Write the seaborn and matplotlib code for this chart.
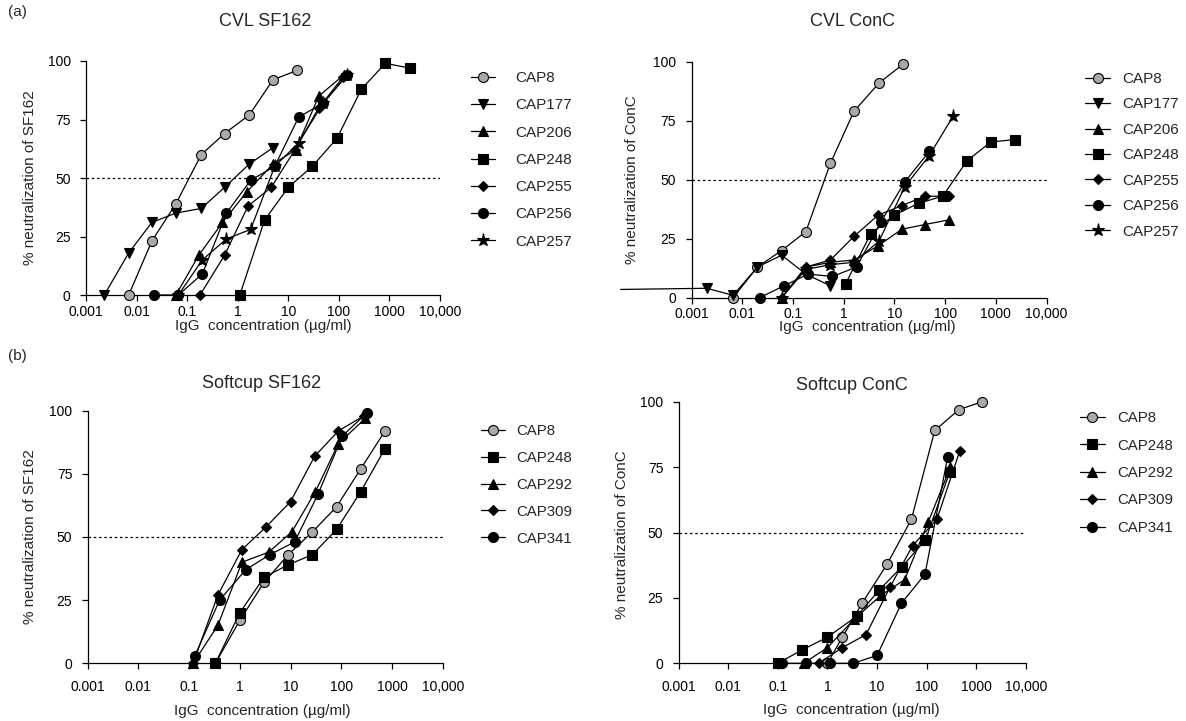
import matplotlib
matplotlib.use("Agg")
import matplotlib.pyplot as plt
import seaborn as sns

# ---------------- (a) CVL vs SF162 ----------------
a_cap8_x = [0.007, 0.02, 0.06, 0.19, 0.55, 1.7, 5, 15]
a_cap8_y = [0, 23, 39, 60, 69, 77, 92, 96]
a_cap177_x = [0.0023, 0.007, 0.02, 0.06, 0.19, 0.55, 1.7, 5]
a_cap177_y = [0, 18, 31, 35, 37, 46, 56, 63]
a_cap206_x = [0.06, 0.17, 0.5, 1.5, 5, 14, 40, 125]
a_cap206_y = [0, 17, 31, 44, 56, 62, 85, 94]
a_cap248_x = [1.1, 3.4, 10, 30, 92, 280, 830, 2500]
a_cap248_y = [0, 32, 46, 55, 67, 88, 99, 97]
a_cap255_x = [0.18, 0.55, 1.6, 4.6, 13.5, 40, 120]
a_cap255_y = [0, 17, 38, 46, 62, 80, 93]
a_cap256_x = [0.022, 0.067, 0.2, 0.6, 1.8, 5.4, 16, 49, 146]
a_cap256_y = [0, 0, 9, 35, 49, 55, 76, 82, 94]
a_cap257_x = [0.067, 0.2, 0.6, 1.8, 5.4, 16, 49, 146]
a_cap257_y = [0, 15, 24, 28, 55, 65, 82, 94]

# ---------------- (a) CVL vs ConC ----------------
b_cap8_x = [0.0066, 0.02, 0.06, 0.18, 0.55, 1.6, 5, 15]
b_cap8_y = [0, 13, 20, 28, 57, 79, 91, 99]
b_cap177_x = [0.00004, 0.002, 0.0066, 0.02, 0.06, 0.18, 0.55]
b_cap177_y = [3.5, 4, 1, 13, 18, 10, 5]
b_cap206_x = [0.06, 0.18, 0.55, 1.6, 4.8, 14, 40, 120]
b_cap206_y = [0, 13, 15, 16, 22, 29, 31, 33]
b_cap248_x = [1.1, 3.4, 10, 30, 90, 270, 800, 2400]
b_cap248_y = [6, 27, 35, 40, 43, 58, 66, 67]
b_cap255_x = [0.06, 0.18, 0.55, 1.6, 4.8, 14, 40, 120]
b_cap255_y = [0, 13, 16, 26, 35, 39, 43, 43]
b_cap256_x = [0.022, 0.066, 0.2, 0.6, 1.8, 5.4, 16, 49]
b_cap256_y = [0, 5, 10, 9, 13, 32, 49, 62]
b_cap257_x = [0.06, 0.18, 0.55, 1.6, 5, 16, 48, 145]
b_cap257_y = [0, 12, 14, 15, 24, 47, 60, 77]

# ---------------- (b) Softcup vs SF162 ----------------
c_cap8_x = [0.33, 1, 3, 9, 27, 81, 243, 729]
c_cap8_y = [0, 17, 32, 43, 52, 62, 77, 92]
c_cap248_x = [0.33, 1, 3, 9, 27, 81, 243, 729]
c_cap248_y = [0, 20, 34, 39, 43, 53, 68, 85]
c_cap292_x = [0.12, 0.37, 1.1, 3.7, 10.6, 31, 88, 300]
c_cap292_y = [0, 15, 40, 44, 52, 68, 87, 97]
c_cap309_x = [0.12, 0.37, 1.1, 3.3, 10, 30, 88, 280]
c_cap309_y = [0, 27, 45, 54, 64, 82, 92, 98]
c_cap341_x = [0.13, 0.4, 1.3, 3.9, 12, 35, 105, 315]
c_cap341_y = [3, 25, 37, 43, 48, 67, 90, 99]

# ---------------- (b) Softcup vs ConC ----------------
d_cap8_x = [1.0, 2.0, 5.0, 16, 49, 145, 447, 1320]
d_cap8_y = [0, 10, 23, 38, 55, 89, 97, 100]
d_cap248_x = [0.1, 0.3, 1.0, 3.9, 11, 32, 93, 290]
d_cap248_y = [0, 5, 10, 18, 28, 37, 47, 73]
d_cap292_x = [0.33, 1.0, 3.5, 12, 36, 107, 300]
d_cap292_y = [0, 6, 17, 26, 32, 54, 75]
d_cap309_x = [0.66, 2.0, 6.0, 18, 52, 160, 460]
d_cap309_y = [0, 6, 11, 29, 45, 55, 81]
d_cap341_x = [0.12, 0.37, 1.1, 3.3, 10, 31, 92, 265]
d_cap341_y = [0, 0, 0, 0, 3, 23, 34, 79]

x_ticks = [0.001, 0.01, 0.1, 1, 10, 100, 1000, 10000]
x_tick_labels = ["0.001", "0.01", "0.1", "1", "10", "100", "1000", "10,000"]
y_ticks = [0, 25, 50, 75, 100]

GREY = "#a9a9a9"
STYLE = {
    "CAP8":   dict(marker="o", ms=7.2, fc=GREY),
    "CAP177": dict(marker="v", ms=7.5, fc="black"),
    "CAP206": dict(marker="^", ms=7.5, fc="black"),
    "CAP248": dict(marker="s", ms=7.0, fc="black"),
    "CAP255": dict(marker="D", ms=5.2, fc="black"),
    "CAP256": dict(marker="o", ms=7.2, fc="black"),
    "CAP257": dict(marker="*", ms=9.5, fc="black"),
    "CAP292": dict(marker="^", ms=7.5, fc="black"),
    "CAP309": dict(marker="D", ms=5.2, fc="black"),
    "CAP341": dict(marker="o", ms=7.2, fc="black"),
}

sns.set_style("ticks")
plt.rcParams["font.family"] = ["Liberation Sans", "DejaVu Sans"]
plt.rcParams["axes.linewidth"] = 0.9

W, H = 1186, 721
fig = plt.figure(figsize=(W / 100, H / 100), dpi=100)


def px_axes(left, right, top, bottom):
    return fig.add_axes([left / W, 1 - bottom / H, (right - left) / W, (bottom - top) / H])


def fig_xy(x, y):
    return x / W, 1 - y / H


def draw_panel(ax, series, ylabel, xlabel_xy, ylabel_xy, legend_xy, legend_kw,
               xtick_pad=3, start_off_axis=()):
    for name, xs, ys in series:
        st = STYLE[name]
        # a leading point that lies below the x-range keeps its line but no marker
        every = list(range(1, len(xs))) if name in start_off_axis else None
        sns.lineplot(x=xs, y=ys, ax=ax, color="black", linewidth=0.9,
                     marker=st["marker"], markersize=st["ms"],
                     markerfacecolor=st["fc"], markeredgecolor="black",
                     markeredgewidth=0.8, markevery=every, estimator=None,
                     sort=False, clip_on=False, label=name, legend=False, zorder=3)
    ax.axhline(50, color="black", linewidth=0.9, linestyle=(0, (2, 2.2)), zorder=1)
    ax.set_xscale("log")
    ax.set_xlim(0.001, 10000)
    ax.set_ylim(0, 100)
    ax.set_xticks(x_ticks)
    ax.set_xticklabels(x_tick_labels)
    ax.minorticks_off()
    ax.set_yticks(y_ticks)
    ax.tick_params(axis="both", direction="out", length=4, width=0.9,
                   labelsize=10, color="black", labelcolor="black")
    ax.tick_params(axis="x", pad=xtick_pad)
    ax.tick_params(axis="y", pad=7)
    for s in ("top", "right"):
        ax.spines[s].set_visible(False)
    for s in ("left", "bottom"):
        ax.spines[s].set_color("black")
    ax.set_xlabel("IgG  concentration (\u00b5g/ml)", fontsize=11, va="center")
    ax.set_ylabel(ylabel, fontsize=11, va="center")
    ax.xaxis.set_label_coords(*fig_xy(*xlabel_xy), transform=fig.transFigure)
    ax.yaxis.set_label_coords(*fig_xy(*ylabel_xy), transform=fig.transFigure)
    ax.patch.set_alpha(0)
    handles, labels = ax.get_legend_handles_labels()
    ax.legend(handles, labels, loc="upper left", bbox_to_anchor=fig_xy(*legend_xy),
              bbox_transform=fig.transFigure, frameon=False, borderpad=0,
              borderaxespad=0, numpoints=1, **legend_kw)


ax_a = px_axes(86, 440, 61, 295)
ax_b = px_axes(691.5, 1046.5, 61.7, 297.7)
ax_c = px_axes(87.6, 442.7, 410.7, 663.3)
ax_d = px_axes(678.6, 1026, 401.7, 663.3)

draw_panel(ax_a, [("CAP8", a_cap8_x, a_cap8_y), ("CAP177", a_cap177_x, a_cap177_y),
                  ("CAP206", a_cap206_x, a_cap206_y), ("CAP248", a_cap248_x, a_cap248_y),
                  ("CAP255", a_cap255_x, a_cap255_y), ("CAP256", a_cap256_x, a_cap256_y),
                  ("CAP257", a_cap257_x, a_cap257_y)],
           "% neutralization of SF162", (263, 326), (30, 178), (471, 71),
           dict(fontsize=11, handlelength=1.6, handletextpad=1.3, labelspacing=0.87))

draw_panel(ax_b, [("CAP8", b_cap8_x, b_cap8_y), ("CAP177", b_cap177_x, b_cap177_y),
                  ("CAP206", b_cap206_x, b_cap206_y), ("CAP248", b_cap248_x, b_cap248_y),
                  ("CAP255", b_cap255_x, b_cap255_y), ("CAP256", b_cap256_x, b_cap256_y),
                  ("CAP257", b_cap257_x, b_cap257_y)],
           "% neutralization of ConC", (867, 327), (632, 180), (1085, 72),
           dict(fontsize=11, handlelength=1.65, handletextpad=0.8, labelspacing=0.75),
           start_off_axis=("CAP177",))

draw_panel(ax_c, [("CAP8", c_cap8_x, c_cap8_y), ("CAP248", c_cap248_x, c_cap248_y),
                  ("CAP292", c_cap292_x, c_cap292_y), ("CAP309", c_cap309_x, c_cap309_y),
                  ("CAP341", c_cap341_x, c_cap341_y)],
           "% neutralization of SF162", (262, 711), (30, 537), (481, 424),
           dict(fontsize=10.8, handlelength=1.6, handletextpad=0.75, labelspacing=0.86),
           xtick_pad=8)

draw_panel(ax_d, [("CAP8", d_cap8_x, d_cap8_y), ("CAP248", d_cap248_x, d_cap248_y),
                  ("CAP292", d_cap292_x, d_cap292_y), ("CAP309", d_cap309_x, d_cap309_y),
                  ("CAP341", d_cap341_x, d_cap341_y)],
           "% neutralization of ConC", (851, 710), (622, 535), (1080, 411),
           dict(fontsize=10.8, handlelength=1.65, handletextpad=0.85, labelspacing=0.9),
           xtick_pad=8)

# panel titles and figure letters
for txt, x, y in [("CVL SF162", 265, 22), ("CVL ConC", 853, 21),
                  ("Softcup SF162", 262, 384), ("Softcup ConC", 852, 386)]:
    fig.text(*fig_xy(x, y), txt, ha="center", va="center", fontsize=13)
for txt, x, y in [("(a)", 8, 12), ("(b)", 8, 356)]:
    fig.text(*fig_xy(x, y), txt, ha="left", va="center", fontsize=11)

fig.savefig("out.png", dpi=100)
